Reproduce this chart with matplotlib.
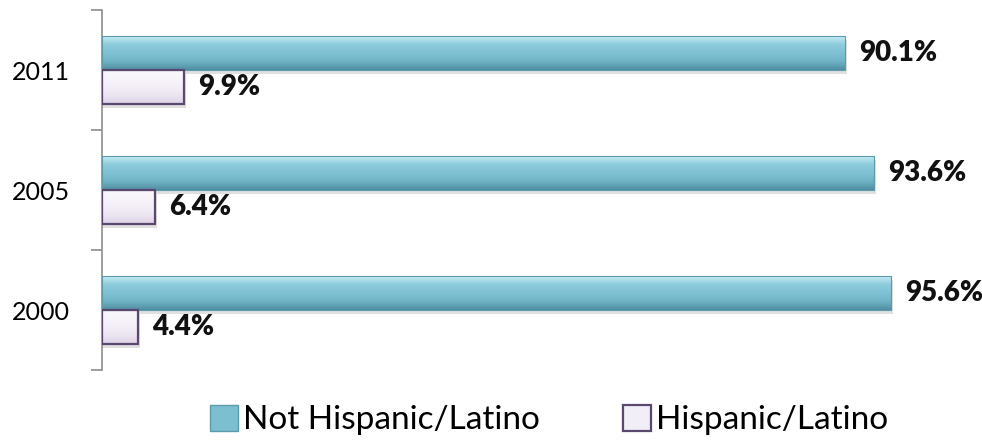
import matplotlib
matplotlib.use("Agg")
import matplotlib.pyplot as plt
import numpy as np
from matplotlib.patches import Patch, Rectangle
from matplotlib.colors import LinearSegmentedColormap

plt.rcParams['font.family'] = ['Lato', 'DejaVu Sans']

years = ["2000", "2005", "2011"]
not_hispanic = [95.6, 93.6, 90.1]
hispanic = [4.4, 6.4, 9.9]
series_names = ["Not Hispanic/Latino", "Hispanic/Latino"]

fig = plt.figure(figsize=(9.82, 4.43), dpi=100)
ax = fig.add_axes([102 / 982, 73 / 443, 825 / 982, 360 / 443])

bar_h = 0.283
y = np.arange(len(years))

teal_cmap = LinearSegmentedColormap.from_list(
    "teal", ["#4f8ea0", "#6fb3c5", "#7fc2d3", "#8ccbdb", "#c5ecf4"])
lilac_cmap = LinearSegmentedColormap.from_list(
    "lilac", ["#ddd3e6", "#efe9f4", "#f6f2f9", "#fbf9fc"])


def gradient_bar(ax, y0, width, height, cmap, edge, lw):
    # drop shadow
    sh = Rectangle((0, y0 - 0.03), width + 0.25, height, facecolor="#000000",
                   alpha=0.12, edgecolor="none", zorder=1)
    ax.add_patch(sh)
    rect = Rectangle((0, y0), width, height, facecolor="none",
                     edgecolor=edge, linewidth=lw, zorder=3)
    ax.add_patch(rect)
    grad = np.linspace(0, 1, 64).reshape(-1, 1)
    im = ax.imshow(grad, cmap=cmap, aspect="auto", origin="lower",
                   extent=(0, width, y0, y0 + height), zorder=2,
                   interpolation="bilinear")
    im.set_clip_path(rect)


for i in range(len(years)):
    gradient_bar(ax, y[i], not_hispanic[i], bar_h, teal_cmap, "#5d9aab", 0.8)
    gradient_bar(ax, y[i] - bar_h, hispanic[i], bar_h, lilac_cmap, "#5a4870", 1.6)
    ax.text(not_hispanic[i] + 1.7, y[i] + bar_h / 2, f"{not_hispanic[i]:.1f}%",
            va="center", ha="left", fontsize=20, fontweight="heavy", color="#111111")
    ax.text(hispanic[i] + 1.7, y[i] - bar_h / 2, f"{hispanic[i]:.1f}%",
            va="center", ha="left", fontsize=20, fontweight="heavy", color="#111111")

ax.set_xlim(0, 100)
ax.set_ylim(-0.5, len(years) - 0.5)

for s in ["top", "right", "bottom"]:
    ax.spines[s].set_visible(False)
ax.spines["left"].set_color("#8c8c8c")
ax.spines["left"].set_linewidth(1.2)
ax.set_xticks([])

ax.set_yticks(np.arange(-0.5, len(years), 1.0))
ax.set_yticklabels([])
ax.tick_params(axis="y", which="major", length=8, color="#8c8c8c", width=1.2)
ax.set_yticks(y, minor=True)
ax.set_yticklabels(years, minor=True)
ax.tick_params(axis="y", which="minor", length=0, pad=23, labelsize=18)

handles = [Patch(facecolor="#7cbfd0", edgecolor="#5d9aab"),
           Patch(facecolor="#f2eef7", edgecolor="#5a4870", linewidth=1.6)]
fig.legend(handles, series_names, loc="center", bbox_to_anchor=(549 / 982, 1 - 420 / 443),
           ncol=2, frameon=False, fontsize=24, handlelength=0.85, handleheight=0.85,
           handletextpad=0.15, columnspacing=2.5)

fig.savefig("out.png", dpi=100)
